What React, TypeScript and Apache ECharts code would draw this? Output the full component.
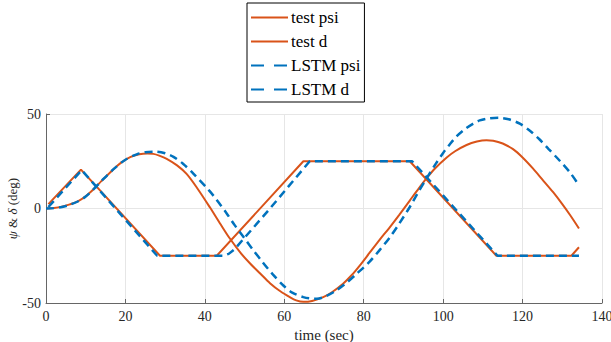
import React, { useEffect, useRef } from "react";
import * as echarts from "echarts";

const xTicks = [0, 20, 40, 60, 80, 100, 120, 140];
const yTicks = [-50, 0, 50];

const testPsiT = [0, 2, 4, 6, 8, 10, 12, 14, 17, 19, 21.2, 23.5, 25.5, 27, 28.5, 30.4, 33, 35.4, 38, 41.3, 44, 46.3, 49, 51.4, 54, 56.4, 59, 61.4, 63, 64.8, 67, 69.8, 72, 74.8, 77, 79, 81.5, 84, 86.6, 89, 91.6, 93.5, 95.8, 98, 100.9, 103, 105.9, 108.5, 110.9, 112.6, 115, 117.6, 120, 122.6, 125, 127.7, 130, 132, 134.2];
const testPsiV = [0, 0.3, 1, 2.2, 3.8, 6.5, 10.3, 14.6, 20.8, 24.4, 27.2, 28.7, 29.1, 28.9, 28, 26.3, 22.8, 18.3, 11, 0.5, -8.5, -15.9, -23.5, -29.1, -34.5, -39.5, -43.8, -46.9, -48.6, -49.4, -48.9, -46.9, -44.3, -39.8, -35.2, -30.2, -23.4, -16.6, -9.8, -3.2, 4.2, 9.6, 15.9, 21.3, 27, 30.3, 33.6, 35.4, 36.1, 35.9, 34.4, 31.4, 27, 21.2, 15.3, 8.6, 2.3, -3.6, -10.6];

const testDT = [0.6, 8.8, 28.7, 43, 64.8, 91.6, 113.4, 132.3, 134.2];
const testDV = [2.3, 20.6, -25, -25, 25, 25, -25, -25, -20.5];

const lstmPsiT = [0, 2, 4, 6, 8, 10, 12, 14, 17, 20, 23, 25, 27.5, 30, 32.1, 34.5, 37.1, 41, 43, 45.5, 47.5, 49.7, 52, 54.7, 57, 59.7, 62, 64.8, 66.5, 68.2, 70.5, 73.2, 76, 78.2, 81.5, 84, 86.6, 89, 91.6, 93.5, 95.8, 98, 100, 101.7, 103.5, 105.5, 107.5, 109.2, 111.5, 114, 116.5, 119.3, 122, 124.3, 126.5, 129.3, 132, 134.2];
const lstmPsiV = [0, 0.2, 0.8, 2, 3.7, 6.3, 10.2, 14.6, 20.8, 25.8, 28.8, 29.8, 30.1, 29.2, 27.3, 23.7, 18.5, 9.7, 4.5, -2.6, -8.8, -15, -21.5, -28.8, -34.6, -40.6, -44.5, -46.9, -47.6, -47.7, -46.4, -43.2, -38.7, -34.6, -28.1, -22, -15.2, -7.8, 0.8, 7.8, 15.9, 23.2, 29.4, 34, 38.4, 42, 44.8, 46.6, 47.7, 48, 47.2, 44.9, 40.9, 36.5, 31.6, 25.4, 18.9, 12.3];

const lstmDT = [0.6, 9, 28, 44.7, 46, 47.5, 56, 66.4, 92.2, 113.7, 134.2];
const lstmDV = [0.8, 20.3, -25, -25, -24, -21.5, -1, 25, 25, -25, -25];

const names = ["test psi", "test d", "LSTM psi", "LSTM d"];

const zip = (t: number[], v: number[]) => t.map((x, i) => [x, v[i]]);

const ORANGE = "#D95319";
const BLUE = "#0072BD";
const FONT = "Liberation Serif";

export default function App() {
  const ref = useRef<HTMLDivElement>(null);
  useEffect(() => {
    if (!ref.current) return;
    const chart = echarts.init(ref.current, undefined, { renderer: "svg" });
    chart.setOption({
      animation: false,
      backgroundColor: "#fff",
      grid: { left: 46, right: 9, top: 114, bottom: 39, containLabel: false, outerBoundsMode: "none" },
      legend: {
        orient: "vertical",
        left: 247,
        top: 3,
        padding: [6, 4, 4, 3],
        itemGap: 7,
        itemWidth: 37,
        itemHeight: 14,
        borderColor: "#000",
        borderWidth: 1,
        backgroundColor: "#fff",
        itemStyle: { opacity: 0 },
        textStyle: { fontFamily: FONT, fontSize: 17, color: "#000", padding: [0, 0, 0, -2] },
        data: [
          { name: names[0] },
          { name: names[1] },
          { name: names[2], lineStyle: { type: [13, 10] } },
          { name: names[3], lineStyle: { type: [13, 10] } },
        ],
      },
      xAxis: {
        type: "value",
        min: xTicks[0],
        max: xTicks[xTicks.length - 1],
        interval: 20,
        name: "time (sec)",
        nameLocation: "middle",
        nameGap: 21,
        nameTextStyle: { fontFamily: FONT, fontSize: 15, color: "#262626" },
        axisLine: { onZero: false, lineStyle: { color: "#666", width: 1 } },
        axisTick: { inside: true, length: 4, lineStyle: { color: "#666" } },
        axisLabel: { fontFamily: FONT, fontSize: 14, color: "#262626", margin: 6 },
        splitLine: { show: true, lineStyle: { color: "#e6e6e6", width: 1 } },
      },
      yAxis: {
        type: "value",
        min: yTicks[0],
        max: yTicks[yTicks.length - 1],
        interval: 50,
        name: "{i|ψ} & {i|δ} (deg)",
        nameLocation: "middle",
        nameGap: 27,
        nameMoveOverlap: false,
        nameTextStyle: {
          fontFamily: FONT,
          fontSize: 13,
          color: "#262626",
          rich: { i: { fontFamily: FONT, fontSize: 13, fontStyle: "italic", color: "#262626" } },
        },
        axisLine: { show: true, onZero: false, lineStyle: { color: "#666", width: 1 } },
        axisTick: { show: true, inside: true, length: 4, lineStyle: { color: "#666" } },
        axisLabel: { fontFamily: FONT, fontSize: 14, color: "#262626", margin: 5 },
        splitLine: { show: true, lineStyle: { color: "#e6e6e6", width: 1 } },
      },
      series: [
        {
          name: names[0],
          type: "line",
          data: zip(testPsiT, testPsiV),
          symbol: "none",
          smooth: 0.3,
          lineStyle: { color: ORANGE, width: 2 },
          itemStyle: { color: ORANGE },
        },
        {
          name: names[1],
          type: "line",
          data: zip(testDT, testDV),
          symbol: "none",
          lineStyle: { color: ORANGE, width: 2 },
          itemStyle: { color: ORANGE },
        },
        {
          name: names[2],
          type: "line",
          data: zip(lstmPsiT, lstmPsiV),
          symbol: "none",
          smooth: 0.3,
          lineStyle: { color: BLUE, width: 2.5, type: [8, 5] },
          itemStyle: { color: BLUE },
        },
        {
          name: names[3],
          type: "line",
          data: zip(lstmDT, lstmDV),
          symbol: "none",
          lineStyle: { color: BLUE, width: 2.5, type: [8, 5] },
          itemStyle: { color: BLUE },
        },
      ],
    });
    return () => chart.dispose();
  }, []);
  return <div ref={ref} style={{ width: 611, height: 342, position: "fixed", left: 0, top: 0 }} />;
}
